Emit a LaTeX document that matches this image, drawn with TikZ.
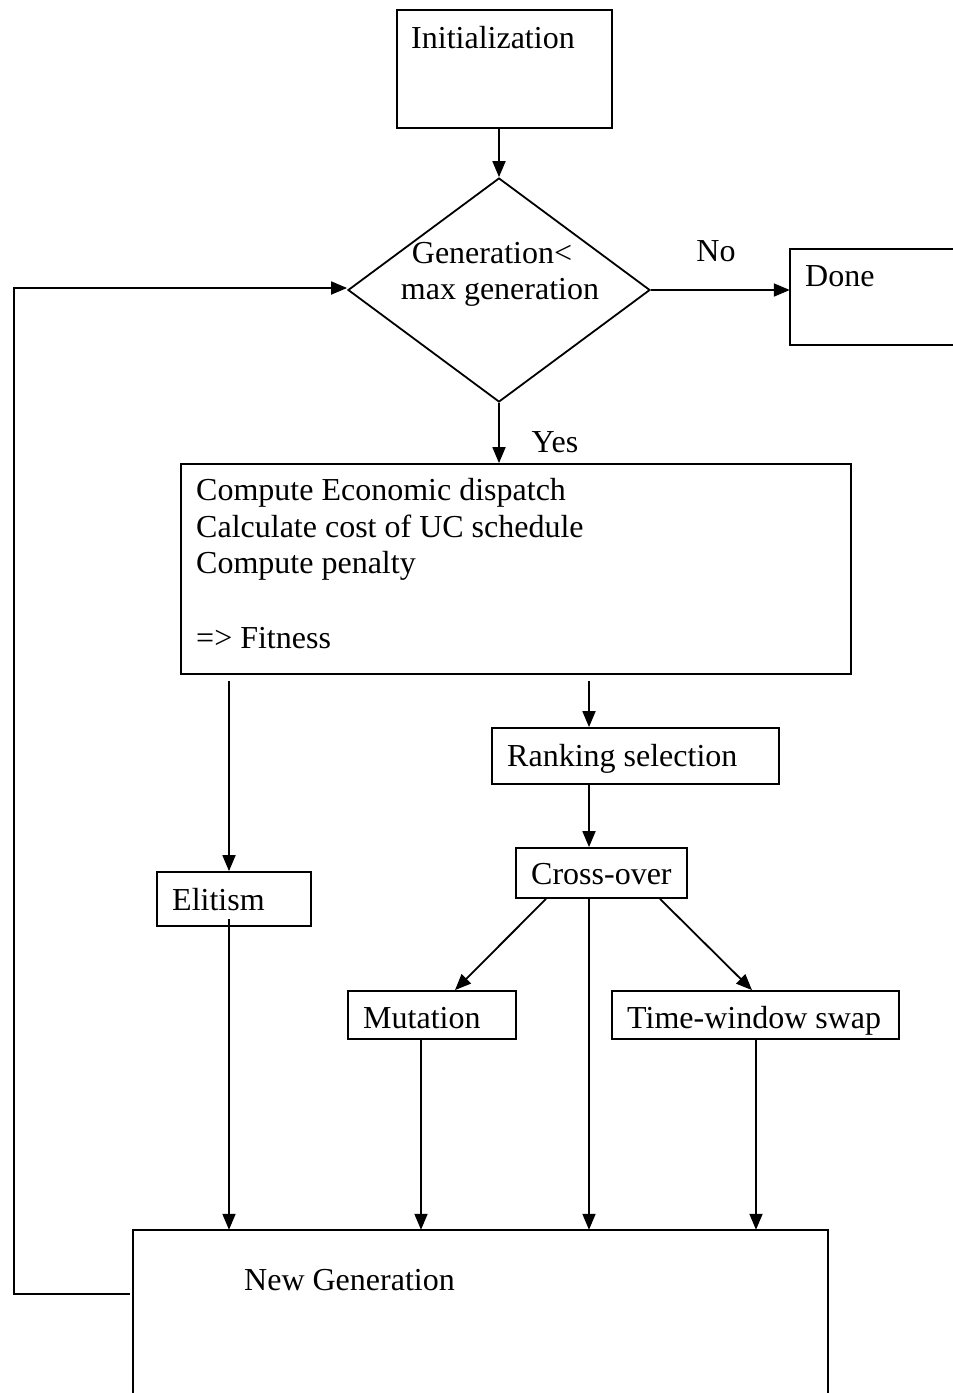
\documentclass[tikz,border=0pt]{standalone}
\usepackage{fontspec}
\setmainfont{Liberation Serif}
\usetikzlibrary{shapes.geometric,arrows.meta,calc}
\tikzset{
  box/.style={draw, line width=1.8pt, rectangle, inner sep=0pt},
  frame/.style={rectangle, inner sep=0pt},
  decision/.style={draw, line width=1.8pt, diamond, inner sep=0pt},
  lbl/.style={inner sep=0pt, anchor=base west, font=\fontsize{32}{37}\selectfont},
  lblc/.style={inner sep=0pt, anchor=base, font=\fontsize{32}{37}\selectfont},
  wire/.style={line width=1.8pt},
  arr/.style={line width=1.8pt, -{Triangle[length=16pt,width=13pt]}},
}
\begin{document}
\begin{tikzpicture}[x=1pt,y=-1pt]
\useasboundingbox (0,0) rectangle (953,1393);

% start box and loop test
\node[box, minimum width=215pt, minimum height=118pt] (init) at (504.5,69) {};
\node[lbl] (initT) at (411,48) {Initialization};

\node[decision, minimum width=302pt, minimum height=224pt] (dia) at (499,290) {};
\node[lblc] (diaT1) at (492,263) {Generation<};
\node[lblc] (diaT2) at (500,299) {max generation};

% exit box (open on the right)
\node[frame, minimum width=170pt, minimum height=96pt] (done) at (875,297) {};
\draw[wire] (done.north east) -- (done.north west) -- (done.south west) -- (done.south east);
\node[lbl] (doneT) at (805,286) {Done};
\node[lblc] (no) at (716,261) {No};
\node[lblc] (yes) at (555,452) {Yes};

% evaluation box
\node[box, minimum width=670pt, minimum height=210pt] (comp) at (516,569) {};
\node[lbl] (c1) at (196,500) {Compute Economic dispatch};
\node[lbl] (c2) at (196,537) {Calculate cost of UC schedule};
\node[lbl] (c3) at (196,573) {Compute penalty};
\node[lbl] (c4) at (196,648) {=> Fitness};

% genetic operators
\node[box, minimum width=287pt, minimum height=56pt] (rank) at (635.5,756) {};
\node[lbl] (rankT) at (507,766) {Ranking selection};

\node[box, minimum width=171pt, minimum height=50pt] (cross) at (601.5,873) {};
\node[lbl] (crossT) at (531,884) {Cross-over};

\node[box, minimum width=154pt, minimum height=54pt] (elit) at (234,899) {};
\node[lbl] (elitT) at (172,910) {Elitism};

\node[box, minimum width=168pt, minimum height=48pt] (mut) at (432,1015) {};
\node[lbl] (mutT) at (363,1028) {Mutation};

\node[box, minimum width=287pt, minimum height=48pt] (tws) at (755.5,1015) {};
\node[lbl] (twsT) at (627,1028) {Time-window swap};

% next population (open at the bottom)
\node[frame, minimum width=695pt, minimum height=163pt] (newgen) at (480.5,1311.5) {};
\draw[wire] (newgen.south west) -- (newgen.north west) -- (newgen.north east) -- (newgen.south east);
\node[lbl] (newgenT) at (244,1290) {New Generation};

% connectors
\draw[arr] (dia.north |- init.south) -- (dia.north);
\draw[arr] (dia.east) -- (dia.east -| done.west);
\draw[arr] (dia.south) -- (dia.south |- comp.north);

\coordinate (elitX) at ([xshift=-5pt]elit.north);
\coordinate (spine) at (589,0);
\draw[arr] ([yshift=-6pt]comp.south -| elitX) -- (elitX);
\draw[arr] ([yshift=-6pt]comp.south -| spine) -- (rank.north -| spine);
\draw[arr] (rank.south -| spine) -- (cross.north -| spine);

\draw[arr] ([xshift=-55.5pt]cross.south) -- ([xshift=23pt]mut.north);
\draw[arr] ([xshift=58.5pt]cross.south) -- ([xshift=-3.5pt]tws.north);

\draw[arr] ([yshift=8pt]elitX |- elit.south) -- (newgen.north -| elitX);
\draw[arr] ([yshift=2pt]cross.south -| spine) -- (newgen.north -| spine);
\draw[arr] ([xshift=-11pt]mut.south) -- ([xshift=-11pt]mut.south |- newgen.north);
\draw[arr] ([xshift=0.5pt]tws.south) -- ([xshift=0.5pt]tws.south |- newgen.north);

% loop back to the test
\coordinate (fb) at (130,1294);
\draw[arr] (fb) -- (14,1294) |- ([yshift=2pt]dia.west);
\end{tikzpicture}
\end{document}
